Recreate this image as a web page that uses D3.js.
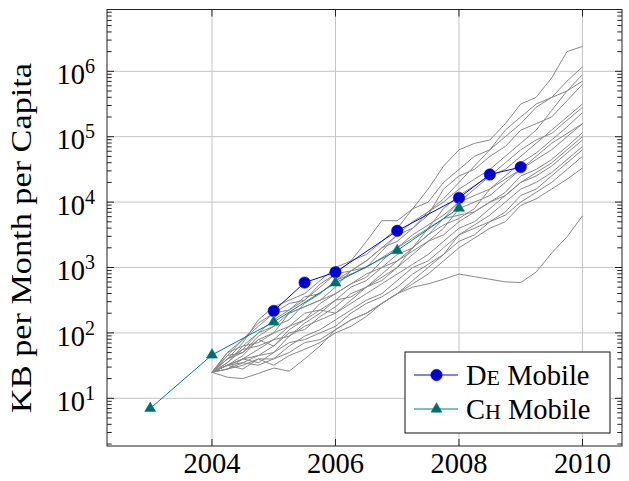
<!DOCTYPE html>
<html>
<head>
<meta charset="utf-8">
<script src="https://cdn.jsdelivr.net/npm/d3@7"></script>
<style>
  html, body { margin: 0; padding: 0; background: #fff; }
  svg { display: block; }
</style>
</head>
<body>
<svg id="chart" width="629" height="481" font-family="'Liberation Serif', 'Times New Roman', serif"></svg>
<script>
// ---------------- data ----------------
const xTicks = [2004, 2006, 2008, 2010];
const yTickExponents = [1, 2, 3, 4, 5, 6];

const deYears  = [2005, 2005.5, 2006, 2007, 2008, 2008.5, 2009];
const deValues = [217, 588, 848, 3640, 11600, 26400, 34300];

const chYears  = [2003, 2004, 2005, 2006, 2007, 2008];
const chValues = [7.0, 46, 147, 582, 1820, 8100];

const grayYears = [2004, 2004.25, 2004.5, 2004.75, 2005, 2005.25, 2005.5, 2005.75,
                   2006, 2006.25, 2006.5, 2006.75, 2007, 2007.25, 2007.5, 2007.75,
                   2008, 2008.25, 2008.5, 2008.75, 2009, 2009.25, 2009.5, 2009.75, 2010];

const gray01 = [25, 50, 79, 141, 200, 282, 316, 560, 794, 1260, 2500, 5200, 5200, 7900, 15800, 35500, 63000, 79000, 89000, 158000, 316000, 400000, 790000, 2000000, 2400000];
const gray02 = [25, 40, 71, 158, 251, 316, 398, 631, 1000, 1260, 1580, 2510, 3980, 7900, 10000, 20000, 31600, 50100, 63100, 126000, 200000, 316000, 398000, 708000, 1170000];
const gray03 = [25, 35, 56, 100, 158, 224, 355, 398, 631, 891, 1260, 2000, 2510, 3980, 7100, 11200, 20000, 35500, 63100, 100000, 158000, 282000, 398000, 501000, 891000];
const gray04 = [25, 32, 45, 79, 100, 200, 251, 316, 501, 891, 1260, 2000, 3160, 3980, 6310, 15800, 25100, 31600, 50100, 70800, 126000, 158000, 200000, 355000, 631000];
const gray05 = [25, 40, 50, 89, 126, 158, 282, 398, 631, 794, 1000, 1780, 3160, 5010, 7080, 10000, 15800, 22400, 31600, 50100, 79400, 126000, 251000, 501000, 708000];
const gray06 = [25, 45, 79, 126, 200, 224, 316, 501, 794, 891, 1000, 1410, 2000, 3160, 4470, 6310, 10000, 15800, 25100, 31600, 50100, 79400, 126000, 200000, 316000];
const gray07 = [25, 32, 40, 56, 79, 126, 158, 282, 398, 562, 708, 1260, 2000, 2820, 3980, 7940, 12600, 17800, 25100, 39800, 63100, 89100, 112000, 178000, 282000];
const gray08 = [25, 35, 63, 71, 100, 126, 200, 224, 316, 501, 631, 1000, 1580, 2000, 3160, 5620, 10000, 12600, 15800, 25100, 39800, 56200, 89100, 141000, 234000];
const gray09 = [25, 28, 40, 45, 63, 100, 112, 178, 251, 398, 501, 794, 1260, 1780, 2510, 3980, 7940, 10000, 12600, 20000, 31600, 44700, 63100, 100000, 158000];
const gray10 = [25, 32, 35, 45, 50, 89, 141, 200, 316, 355, 501, 708, 1000, 1580, 2510, 3160, 5010, 7080, 10000, 14100, 25100, 31600, 44700, 70800, 115000];
const gray11 = [25, 40, 56, 63, 79, 89, 126, 158, 200, 282, 398, 562, 794, 1120, 1580, 2510, 3980, 5010, 7940, 12600, 20000, 25100, 35500, 56200, 89100];
const gray12 = [25, 28, 32, 40, 40, 63, 89, 112, 158, 224, 316, 398, 631, 1000, 1260, 2000, 3160, 4470, 6310, 10000, 15800, 20000, 28200, 44700, 70800];
const gray13 = [25, 32, 40, 35, 50, 71, 79, 100, 126, 200, 282, 355, 501, 794, 1120, 1580, 2510, 3160, 5010, 6310, 10000, 14100, 20000, 31600, 50100];
const gray14 = [25, 28, 35, 32, 40, 50, 71, 79, 112, 158, 200, 282, 398, 562, 794, 1260, 2000, 2820, 3980, 5010, 8910, 11200, 15800, 22400, 33100];
const gray15 = [25, 45, 50, 79, 63, 112, 158, 224, 200, 316, 501, 631, 1000, 2000, 3980, 5620, 6310, 7080, 10000, 12600, 20000, 28200, 39800, 63100, 100000];
const gray16 = [25, 32, 28, 40, 32, 45, 56, 71, 100, 126, 178, 282, 398, 631, 1000, 1580, 3160, 3980, 5010, 7080, 12600, 15800, 25100, 39800, 63100];
const gray17 = [25, 21, 20, 24, 29, 26, 40, 63, 112, 158, 200, 282, 398, 501, 562, 661, 794, 724, 661, 603, 589, 851, 1660, 2950, 6170];
const gray18 = [25, 50, 63, 100, 126, 200, 251, 316, 398, 562, 794, 1000, 1260, 2000, 3160, 4470, 5620, 7940, 15800, 22400, 31600, 50100, 79400, 112000, 158000];

const grayLines = [gray01, gray02, gray03, gray04, gray05, gray06, gray07, gray08, gray09,
                   gray10, gray11, gray12, gray13, gray14, gray15, gray16, gray17, gray18];

const legendLabels = [["D", "E", " Mobile"], ["C", "H", " Mobile"]];
const yAxisLabel = "KB per Month per Capita";

// ---------------- layout ----------------
const svg = d3.select("#chart");
const FONT = "'Liberation Serif', 'Times New Roman', serif";
const L = 107, R = 622, T = 9.5, B = 446;
const x = d3.scaleLinear().domain([2002.3, 2010.64]).range([L, R]);
const y = d3.scaleLog().domain([1.865, 8.81e6]).range([B, T]);

const deLine = "#0000ff", deFill = "#0000cc";
const chLine = "#008080", chFill = "#006e6e";

svg.append("rect").attr("width", 629).attr("height", 481).attr("fill", "#fff");

// grid
const grid = svg.append("g");
xTicks.forEach(t => {
  grid.append("line").attr("x1", x(t)).attr("x2", x(t)).attr("y1", T).attr("y2", B)
    .attr("stroke", "#c4c4c4").attr("stroke-width", 1);
});
yTickExponents.forEach(e => {
  const yy = y(Math.pow(10, e));
  grid.append("line").attr("x1", L).attr("x2", R).attr("y1", yy).attr("y2", yy)
    .attr("stroke", "#c4c4c4").attr("stroke-width", 1);
});

// gray country lines
const lineGen = d3.line().x(d => x(d[0])).y(d => y(d[1]));
const gGray = svg.append("g");
grayLines.forEach(vals => {
  gGray.append("path")
    .attr("d", lineGen(grayYears.map((yr, i) => [yr, vals[i]])))
    .attr("fill", "none").attr("stroke", "#888888").attr("stroke-width", 1)
    .attr("stroke-linejoin", "round");
});

// DE Mobile
const dePts = deYears.map((yr, i) => [yr, deValues[i]]);
svg.append("path").attr("d", lineGen(dePts)).attr("fill", "none")
  .attr("stroke", deLine).attr("stroke-width", 1);
svg.append("g").selectAll("circle").data(dePts).join("circle")
  .attr("cx", d => x(d[0])).attr("cy", d => y(d[1])).attr("r", 5.7)
  .attr("fill", deFill).attr("stroke", deLine).attr("stroke-width", 0.6);

// CH Mobile
const tri = d3.symbol().type(d3.symbolTriangle).size(52);
const chPts = chYears.map((yr, i) => [yr, chValues[i]]);
svg.append("path").attr("d", lineGen(chPts)).attr("fill", "none")
  .attr("stroke", chLine).attr("stroke-width", 1);
svg.append("g").selectAll("path").data(chPts).join("path")
  .attr("d", tri).attr("transform", d => `translate(${x(d[0])},${y(d[1])})`)
  .attr("fill", chFill).attr("stroke", chLine).attr("stroke-width", 0.6);

// axis frame + ticks
const axes = svg.append("g").attr("stroke", "#222").attr("stroke-width", 1);
axes.append("rect").attr("x", L).attr("y", T).attr("width", R - L).attr("height", B - T)
  .attr("fill", "none");
xTicks.forEach(t => {
  axes.append("line").attr("x1", x(t)).attr("x2", x(t)).attr("y1", B).attr("y2", B - 7);
  axes.append("line").attr("x1", x(t)).attr("x2", x(t)).attr("y1", T).attr("y2", T + 7);
});
const [d0, d1] = y.domain();
for (let e = 0; e <= 6; e++) {
  for (let m = 1; m <= 9; m++) {
    const v = m * Math.pow(10, e);
    if (v < d0 || v > d1) continue;
    const len = m === 1 ? 7 : 4.7;
    const yy = y(v);
    axes.append("line").attr("x1", L).attr("x2", L + len).attr("y1", yy).attr("y2", yy);
    axes.append("line").attr("x1", R).attr("x2", R - len).attr("y1", yy).attr("y2", yy);
  }
}

// tick labels
const fs = 28.5;
xTicks.forEach(t => {
  svg.append("text").attr("x", x(t)).attr("y", 473).attr("text-anchor", "middle")
    .attr("font-family", FONT).attr("font-size", fs).attr("fill", "#000").text(t);
});
yTickExponents.forEach(e => {
  const yy = y(Math.pow(10, e));
  const t = svg.append("text").attr("x", 95).attr("y", yy + 12.7).attr("text-anchor", "end")
    .attr("font-family", FONT).attr("font-size", fs).attr("fill", "#000");
  t.append("tspan").text("10");
  t.append("tspan").attr("font-size", 20).attr("dy", -11).text(String(e));
});

// y axis label
svg.append("text")
  .attr("transform", "translate(31,238) rotate(-90)")
  .attr("text-anchor", "middle").attr("font-family", FONT).attr("font-size", 30)
  .attr("fill", "#000")
  .attr("textLength", 350).attr("lengthAdjust", "spacingAndGlyphs")
  .text(yAxisLabel);

// legend
const lg = svg.append("g");
lg.append("rect").attr("x", 405).attr("y", 352).attr("width", 205).attr("height", 81)
  .attr("fill", "#fff").attr("stroke", "#111").attr("stroke-width", 1);
const rows = [375, 409];
rows.forEach((ry, i) => {
  const col = i === 0 ? deLine : chLine;
  const fill = i === 0 ? deFill : chFill;
  lg.append("line").attr("x1", 414).attr("x2", 458).attr("y1", ry).attr("y2", ry)
    .attr("stroke", col).attr("stroke-width", 1);
  if (i === 0) {
    lg.append("circle").attr("cx", 436.5).attr("cy", ry).attr("r", 5.7)
      .attr("fill", fill).attr("stroke", col).attr("stroke-width", 0.6);
  } else {
    lg.append("path").attr("d", tri).attr("transform", `translate(436.5,${ry})`)
      .attr("fill", fill).attr("stroke", col).attr("stroke-width", 0.6);
  }
  const t = lg.append("text").attr("x", 466).attr("y", ry + 10)
    .attr("font-family", FONT).attr("font-size", fs).attr("fill", "#000");
  t.append("tspan").text(legendLabels[i][0]);
  t.append("tspan").attr("font-size", 22).text(legendLabels[i][1]);
  t.append("tspan").text(legendLabels[i][2]);
});
</script>
</body>
</html>
